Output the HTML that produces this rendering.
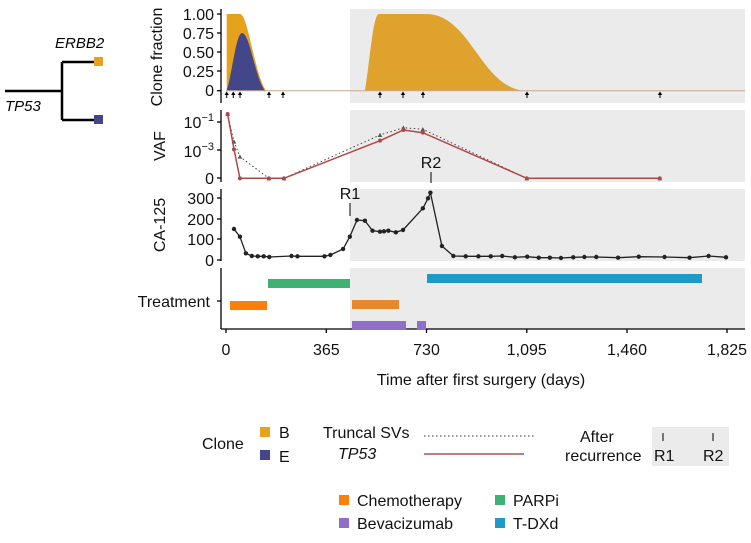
<!DOCTYPE html>
<html><head><meta charset="utf-8"><style>
html,body{margin:0;padding:0;background:#fff;}
svg{display:block;font-family:"Liberation Sans",Arial,sans-serif;}
</style></head><body>
<svg id="s" width="751" height="543" viewBox="0 0 751 543" xmlns="http://www.w3.org/2000/svg">
<rect x="350" y="9" width="395" height="94" fill="#ebebeb"/>
<rect x="350" y="110" width="395" height="72" fill="#ebebeb"/>
<rect x="350" y="189" width="395" height="72" fill="#ebebeb"/>
<rect x="350" y="268" width="395" height="61" fill="#ebebeb"/>

<path d="M226.7,90.7 L226.7,14 L240,14 C248,14 254,72 266,90.7 Z" fill="#e6a21d"/>
<path d="M226.7,90.7 C232,75 236,33 242,33 C250,33 255,78 265,90.7 Z" fill="#44468a"/>
<path d="M365,90.7 C370,60 373,14 379,14 L426,14 C470,14 480,85 523,90.7 Z" fill="#dea22d"/>
<line x1="226" y1="90.7" x2="745" y2="90.7" stroke="#c8aa94" stroke-width="1"/>

<g id="dyn"></g>

<g stroke="#000" stroke-width="1.3" fill="none">
<line x1="221" y1="9" x2="221" y2="103"/>
<line x1="221" y1="110" x2="221" y2="182"/>
<line x1="221" y1="189" x2="221" y2="261"/>
<line x1="221" y1="268" x2="221" y2="329"/>
<line x1="221" y1="329" x2="745" y2="329"/>
<line x1="217" y1="14" x2="221" y2="14"/><line x1="217" y1="33" x2="221" y2="33"/><line x1="217" y1="52" x2="221" y2="52"/><line x1="217" y1="71" x2="221" y2="71"/><line x1="217" y1="90.7" x2="221" y2="90.7"/>
<line x1="217" y1="122" x2="221" y2="122"/><line x1="217" y1="150" x2="221" y2="150"/><line x1="217" y1="178" x2="221" y2="178"/>
<line x1="217" y1="198" x2="221" y2="198"/><line x1="217" y1="219" x2="221" y2="219"/><line x1="217" y1="239" x2="221" y2="239"/><line x1="217" y1="260" x2="221" y2="260"/>
<line x1="217" y1="301" x2="221" y2="301"/>
<line x1="226" y1="329" x2="226" y2="333"/><line x1="326.3" y1="329" x2="326.3" y2="333"/><line x1="426.5" y1="329" x2="426.5" y2="333"/><line x1="526.8" y1="329" x2="526.8" y2="333"/><line x1="627" y1="329" x2="627" y2="333"/><line x1="727" y1="329" x2="727" y2="333"/>
</g>
<g font-size="16" text-anchor="end" fill="#111">
<text x="214" y="20">1.00</text><text x="214" y="39">0.75</text><text x="214" y="58">0.50</text><text x="214" y="77">0.25</text><text x="214" y="96">0</text>
<text x="214" y="128">10<tspan font-size="11" dy="-7">−1</tspan></text>
<text x="214" y="157">10<tspan font-size="11" dy="-7">−3</tspan></text>
<text x="214" y="184">0</text>
<text x="214" y="204">300</text><text x="214" y="225">200</text><text x="214" y="245">100</text><text x="214" y="266">0</text>
<text x="210" y="307">Treatment</text>
</g>
<g font-size="16" text-anchor="middle" fill="#111">
<text x="226" y="355">0</text><text x="326.3" y="355">365</text><text x="426.5" y="355">730</text><text x="526.8" y="355">1,095</text><text x="627" y="355">1,460</text><text x="727" y="355">1,825</text>
<text x="481" y="385">Time after first surgery (days)</text>
<text transform="translate(162,57) rotate(-90)">Clone fraction</text>
<text transform="translate(165,146) rotate(-90)">VAF</text>
<text transform="translate(165,225) rotate(-90)">CA-125</text>
<text x="350" y="199">R1</text><text x="431" y="168">R2</text>
</g>
<line x1="350" y1="203" x2="350" y2="216" stroke="#000"/>
<line x1="431" y1="172" x2="431" y2="183" stroke="#000"/>

<rect x="268" y="279" width="82" height="9" fill="#3db272"/>
<rect x="230" y="301" width="37" height="9" fill="#fb7f0b"/>
<rect x="352" y="300" width="47" height="9" fill="#e8882c"/>
<rect x="352" y="321" width="54" height="9" fill="#8f6fcb"/>
<rect x="417" y="321" width="9" height="9" fill="#8f6fcb"/>
<rect x="427" y="274" width="275" height="9" fill="#1e9ac7"/>

<g stroke="#000" stroke-width="2.5" fill="none">
<line x1="5" y1="91" x2="62" y2="91"/><line x1="62" y1="62" x2="62" y2="120"/>
<line x1="62" y1="62" x2="94" y2="62"/><line x1="62" y1="120" x2="94" y2="120"/>
</g>
<rect x="94" y="57" width="9" height="9" fill="#e6a21d"/>
<rect x="94" y="115" width="9" height="9" fill="#44468a"/>
<text x="55" y="48" font-size="15" font-style="italic">ERBB2</text>
<text x="5" y="111" font-size="15" font-style="italic">TP53</text>

<g font-size="16" fill="#111">
<text x="202" y="449">Clone</text>
<rect x="260" y="427" width="10" height="10" fill="#e6a21d"/><text x="279" y="438">B</text>
<rect x="260" y="450" width="10" height="10" fill="#44468a"/><text x="279" y="462">E</text>
<text x="323" y="438">Truncal SVs</text>
<text x="338" y="459" font-style="italic">TP53</text>
<text x="580" y="442">After</text>
<text x="565" y="461">recurrence</text>
<rect x="652" y="427" width="77" height="39" fill="#ebebeb"/>
<text x="654" y="461">R1</text><text x="703" y="461">R2</text>
<rect x="339" y="495" width="10" height="10" fill="#fb7f0b"/><text x="357" y="506">Chemotherapy</text>
<rect x="339" y="518" width="10" height="10" fill="#8f6fcb"/><text x="357" y="529">Bevacizumab</text>
<rect x="495" y="495" width="10" height="10" fill="#3db272"/><text x="513" y="506">PARPi</text>
<rect x="495" y="518" width="10" height="10" fill="#1e9ac7"/><text x="513" y="529">T-DXd</text>
</g>
<line x1="424" y1="436" x2="535" y2="436" stroke="#333" stroke-dasharray="1.5,2.5"/>
<line x1="424" y1="454" x2="524" y2="454" stroke="#b05050" stroke-width="1.5"/>
<line x1="663" y1="433" x2="663" y2="441" stroke="#000"/><line x1="713" y1="433" x2="713" y2="441" stroke="#000"/>
</svg>
<script>
var g=document.getElementById('dyn'),h='';
function X(z){return 130+z/2.52}function Y(z){return z/3}
[226.7,233.3,240,269,283,380,403,423,527,660].forEach(function(x){
h+='<line x1="'+x+'" y1="93" x2="'+x+'" y2="98" stroke="#000"/><path d="M'+(x-2.2)+',95 L'+x+',91.5 L'+(x+2.2)+',95 Z" fill="#000"/>';});
var dot=[[246,342],[262,425],[277,470],[350,535],[388,535],[630,405],[689,383],[738,388],[1000,535],[1335,535]];
var red=[[246,342],[262,448],[277,535],[350,535],[388,535],[630,422],[689,390],[738,398],[1000,535],[1335,535]];
var p=dot.map(function(a){return X(a[0]).toFixed(1)+','+Y(a[1]).toFixed(1)}).join(' ');
h+='<polyline points="'+p+'" fill="none" stroke="#444" stroke-dasharray="1.5,2.5"/>';
dot.forEach(function(a){var x=X(a[0]),y=Y(a[1]);h+='<path d="M'+(x-2.3)+','+(y+2)+' L'+x+','+(y-2.3)+' L'+(x+2.3)+','+(y+2)+' Z" fill="#555"/>';});
p=red.map(function(a){return X(a[0]).toFixed(1)+','+Y(a[1]).toFixed(1)}).join(' ');
h+='<polyline points="'+p+'" fill="none" stroke="#b04848" stroke-width="1.5"/>';
red.forEach(function(a){h+='<circle cx="'+X(a[0])+'" cy="'+Y(a[1])+'" r="2" fill="#b04848"/>';});
var ca=[[262,147],[277,170],[292,220],[307,228],[322,229],[337,229],[351,231],[407,228],[422,229],[490,229],[505,225],[537,207],[554,170],[572,120],[592,122],[611,152],[630,155],[640,154],[651,152],[670,157],[688,150],[738,85],[751,55],[757,38],[786,198],[815,228],[846,229],[878,229],[909,229],[938,228],[970,232],[1001,230],[1030,233],[1058,233],[1086,234],[1117,232],[1145,231],[1175,231],[1230,233],[1282,230],[1347,231],[1410,233],[1458,228],[1502,232]];
p=ca.map(function(a){return X(a[0]).toFixed(1)+','+(180+a[1]/3).toFixed(1)}).join(' ');
h+='<polyline points="'+p+'" fill="none" stroke="#222" stroke-width="1.3"/>';
ca.forEach(function(a){h+='<circle cx="'+X(a[0])+'" cy="'+(180+a[1]/3)+'" r="2.2" fill="#222"/>';});
g.innerHTML=h;
</script>
</body></html>
